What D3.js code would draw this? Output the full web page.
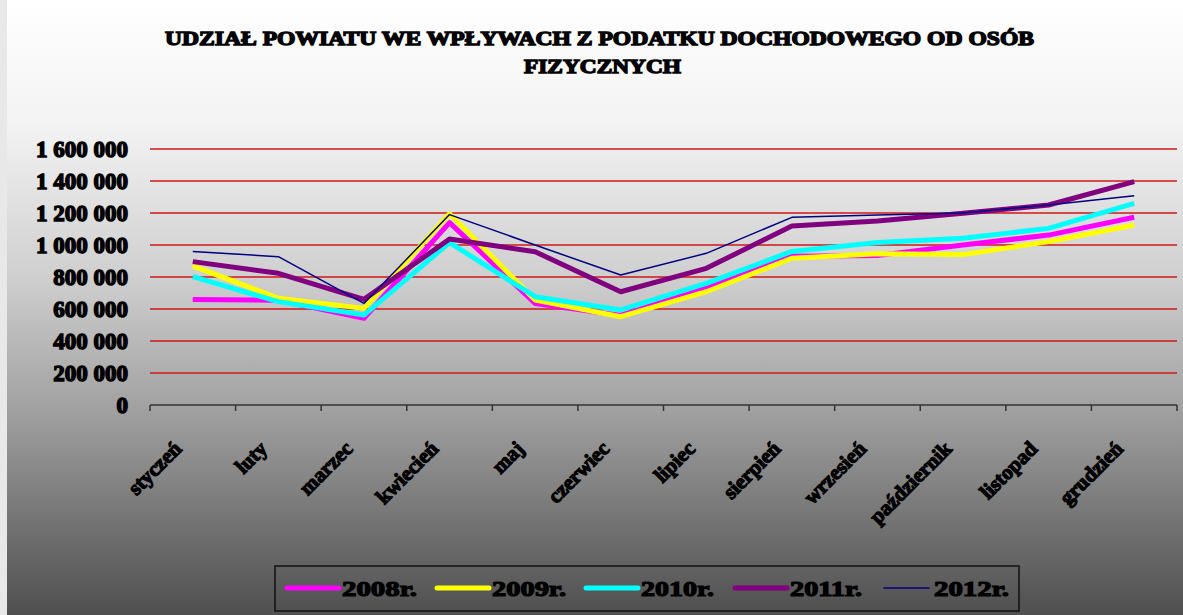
<!DOCTYPE html>
<html>
<head>
<meta charset="utf-8">
<script src="https://cdn.jsdelivr.net/npm/d3@7"></script>
<style>
  body { margin: 0; background: #e8e8e8; }
  svg { display: block; }
  text { font-family: "Liberation Serif", "DejaVu Serif", serif; font-weight: bold; fill: #000; }
</style>
</head>
<body>
<div id="chart"></div>
<script>
// Data
const months = ["styczeń", "luty", "marzec", "kwiecień", "maj", "czerwiec", "lipiec",
  "sierpień", "wrzesień", "październik", "listopad", "grudzień"];
const v2008 = [660000, 655000, 542000, 1140000, 635000, 560000, 730000, 930000, 935000, 1000000, 1062000, 1173000];
const v2009 = [870000, 667000, 604000, 1195000, 656000, 552000, 708000, 917000, 945000, 940000, 1021000, 1125000];
const v2010 = [802000, 646000, 562000, 1015000, 677000, 594000, 760000, 960000, 1015000, 1042000, 1104000, 1260000];
const v2011 = [896000, 823000, 660000, 1037000, 958000, 708000, 854000, 1119000, 1150000, 1198000, 1250000, 1396000];
const v2012 = [960000, 927000, 635000, 1190000, 1000000, 812000, 948000, 1173000, 1187000, 1200000, 1250000, 1308000];
const seriesNames = ["2008r.", "2009r.", "2010r.", "2011r.", "2012r."];
const yTicks = [0, 200000, 400000, 600000, 800000, 1000000, 1200000, 1400000, 1600000];

const series = [
  {name: seriesNames[0], values: v2008, color: "#ff00ff", width: 5},
  {name: seriesNames[1], values: v2009, color: "#ffff00", width: 5},
  {name: seriesNames[2], values: v2010, color: "#00ffff", width: 5},
  {name: seriesNames[3], values: v2011, color: "#800080", width: 5},
  {name: seriesNames[4], values: v2012, color: "#000080", width: 1.5}
];

const width = 1183, height = 615;
const plot = {left: 150, right: 1177, top: 149, bottom: 405};

const svg = d3.select("#chart").append("svg")
  .attr("width", width)
  .attr("height", height);

// Background gradient
const defs = svg.append("defs");
const grad = defs.append("linearGradient")
  .attr("id", "bg")
  .attr("x1", 0).attr("y1", 0).attr("x2", 0).attr("y2", 1);
grad.append("stop").attr("offset", "0%").attr("stop-color", "#ffffff");
grad.append("stop").attr("offset", "20%").attr("stop-color", "#f3f3f3");
grad.append("stop").attr("offset", "45%").attr("stop-color", "#cfcfcf");
grad.append("stop").attr("offset", "66%").attr("stop-color", "#a2a2a2");
grad.append("stop").attr("offset", "100%").attr("stop-color", "#4f4f4f");

svg.append("rect")
  .attr("x", 7).attr("y", 0)
  .attr("width", width - 7).attr("height", height)
  .attr("fill", "url(#bg)");

// Title
svg.append("text")
  .attr("x", 165).attr("y", 45)
  .attr("textLength", 869)
  .attr("lengthAdjust", "spacingAndGlyphs")
  .style("font-size", "19px")
  .style("stroke", "#000").style("stroke-width", 1.3)
  .text("UDZIAŁ POWIATU WE WPŁYWACH Z PODATKU DOCHODOWEGO OD OSÓB");
svg.append("text")
  .attr("x", 524).attr("y", 73)
  .attr("textLength", 157)
  .attr("lengthAdjust", "spacingAndGlyphs")
  .style("font-size", "19px")
  .style("stroke", "#000").style("stroke-width", 1.3)
  .text("FIZYCZNYCH");

// Scales
const x = d3.scaleBand().domain(months).range([plot.left, plot.right]).padding(0);
const cx = d => x(d) + x.bandwidth() / 2;
const y = d3.scaleLinear().domain([0, 1600000]).range([plot.bottom, plot.top]);

const locale = d3.formatLocale({decimal: ",", thousands: " ", grouping: [3], currency: ["", ""]});
const fmt = locale.format(",");

// Gridlines
svg.append("g")
  .selectAll("line")
  .data(yTicks.filter(d => d > 0))
  .enter()
  .append("line")
  .attr("x1", plot.left).attr("x2", plot.right)
  .attr("y1", d => y(d)).attr("y2", d => y(d))
  .style("stroke", "#d01818")
  .style("stroke-width", 1.5);

// Y axis labels
const yAxis = svg.append("g")
  .attr("transform", "translate(" + plot.left + ",0)")
  .call(d3.axisLeft(y).tickValues(yTicks).tickFormat(fmt).tickSize(0).tickPadding(22));
yAxis.select(".domain").remove();
yAxis.selectAll("text")
  .style("font-size", "23px")
  .style("font-family", "'Liberation Serif', serif")
  .style("font-weight", "bold")
  .style("stroke", "#000").style("stroke-width", 1.4);

// X axis
const xAxis = svg.append("g")
  .attr("transform", "translate(0," + plot.bottom + ")");
xAxis.append("line")
  .attr("x1", plot.left).attr("x2", plot.right)
  .style("stroke", "#333").style("stroke-width", 1.5);
xAxis.selectAll(".tick")
  .data(d3.range(months.length + 1))
  .enter()
  .append("line")
  .attr("x1", i => plot.left + i * x.bandwidth())
  .attr("x2", i => plot.left + i * x.bandwidth())
  .attr("y1", 0).attr("y2", 6)
  .style("stroke", "#333").style("stroke-width", 1.5);
xAxis.selectAll(".lbl")
  .data(months)
  .enter()
  .append("text")
  .attr("class", "lbl")
  .attr("text-anchor", "end")
  .attr("transform", d => "translate(" + (cx(d) - 10) + ",45) rotate(-45)")
  .style("font-size", "21px")
  .style("stroke", "#000").style("stroke-width", 1.2)
  .text(d => d);

// Lines
const line = d3.line()
  .x((d, i) => cx(months[i]))
  .y(d => y(d));

svg.append("g")
  .selectAll("path")
  .data(series)
  .enter()
  .append("path")
  .attr("d", d => line(d.values))
  .attr("fill", "none")
  .attr("stroke", d => d.color)
  .attr("stroke-width", d => d.width)
  .attr("stroke-linejoin", "round");

// Legend
const legendBox = {x: 275, y: 566, w: 744, h: 45};
svg.append("rect")
  .attr("x", legendBox.x).attr("y", legendBox.y)
  .attr("width", legendBox.w).attr("height", legendBox.h)
  .attr("fill", "none")
  .attr("stroke", "#111").attr("stroke-width", 1.5);

const legendX = [287, 437, 586, 735, 884];
const legendTextW = [75, 74, 73, 72, 75];
const legend = svg.append("g")
  .selectAll(".legend")
  .data(series)
  .enter()
  .append("g")
  .attr("class", "legend")
  .attr("transform", (d, i) => "translate(" + legendX[i] + "," + (legendBox.y + 22) + ")");

legend.append("line")
  .attr("x1", 0).attr("x2", (d, i) => i == 4 ? 45 : 52)
  .attr("stroke", d => d.color)
  .attr("stroke-width", d => d.width)
  .attr("stroke-linecap", "round");

legend.append("text")
  .attr("x", (d, i) => i == 4 ? 50 : 55)
  .attr("y", 8)
  .attr("textLength", (d, i) => legendTextW[i])
  .attr("lengthAdjust", "spacingAndGlyphs")
  .style("font-size", "22px")
  .style("stroke", "#000").style("stroke-width", 1.2)
  .text(d => d.name);
</script>
</body>
</html>
